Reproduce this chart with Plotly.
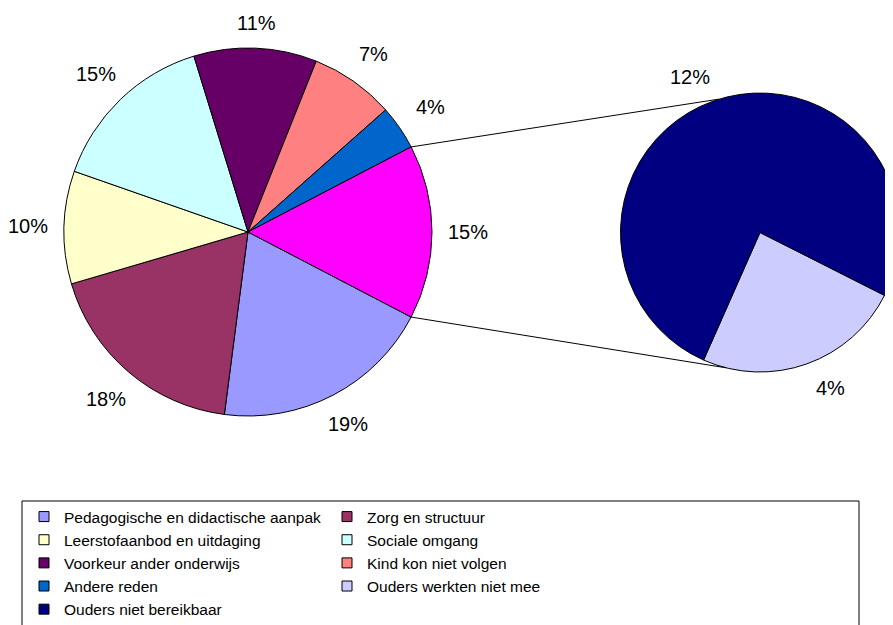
import math
import plotly.graph_objects as go

W, H = 893, 625
OFF = 8  # default page margin of the browser body, compensated in geometry

# ---- data ----
categories = ["Pedagogische en didactische aanpak", "Zorg en structuur",
              "Leerstofaanbod en uitdaging", "Sociale omgang",
              "Voorkeur ander onderwijs", "Kind kon niet volgen", "Andere reden"]
main_values = [19.4, 18.4, 9.9, 14.9, 10.8, 7.4, 3.9]
sub_categories = ["Ouders werkten niet mee", "Ouders niet bereikbaar"]
sub_values = [3.7, 11.6]

main_colors = ["#9999FF", "#993366", "#FFFFCC", "#CCFFFF", "#660066", "#FF8080", "#0066CC"]
sub_colors = ["#CCCCFF", "#000080"]
other_color = "#FF00FF"

FONT = "Liberation Sans, Arial, sans-serif"
LABEL_SIZE = 20

other_value = sum(sub_values)
total = sum(main_values) + other_value
other_frac = other_value / total

# ---- geometry (screen pixels) ----
main_c, main_r = (248, 232), 184
sub_c, sub_r = (760, 232.5), 139.5
LABEL_GAP = 16
HALF_W, HALF_H = 20, 8


def px2paper(x, y):
    return (x - OFF) / W, 1 - (y - OFF) / H


def dom(c, r):
    x0, y1 = px2paper(c[0] - r, c[1] - r)
    x1, y0 = px2paper(c[0] + r, c[1] + r)
    return dict(x=[x0, x1], y=[y0, y1])


main_rotation = 90 + other_frac * 180
sub_rotation = 116.8

fig = go.Figure()

main_all_vals = main_values + [other_value]
fig.add_trace(go.Pie(
    labels=categories + ["Overig"],
    values=main_all_vals,
    marker=dict(colors=main_colors + [other_color], line=dict(color="black", width=1)),
    sort=False, direction="clockwise", rotation=main_rotation,
    textinfo="none",
    domain=dom(main_c, main_r),
    showlegend=False, hoverinfo="label+percent",
))

fig.add_trace(go.Pie(
    labels=sub_categories,
    values=sub_values,
    marker=dict(colors=sub_colors, line=dict(color="black", width=1)),
    sort=False, direction="clockwise", rotation=sub_rotation,
    textinfo="none",
    domain=dom(sub_c, sub_r),
    showlegend=False, hoverinfo="label+value",
))

# legend entries
legend_names = categories + sub_categories
legend_colors = main_colors + sub_colors
for name, col in zip(legend_names, legend_colors):
    fig.add_trace(go.Scatter(
        x=[None], y=[None], mode="markers", name=name,
        marker=dict(symbol="square", size=10, color=col, line=dict(color="black", width=1)),
    ))


def pt(c, r, ang_cw):
    a = math.radians(ang_cw)
    return c[0] + r * math.sin(a), c[1] - r * math.cos(a)


# percentage labels placed just outside the rim at slice mid-angles
annotations = []


def add_labels(c, r, vals, rot, denom, ang_shift=0.0):
    s = sum(vals)
    ang = rot
    for v in vals:
        span = v / s * 360
        mid = ang + span / 2 + ang_shift
        a = math.radians(mid)
        rr = r + LABEL_GAP + HALF_W * abs(math.sin(a)) + HALF_H * abs(math.cos(a))
        x, y = pt(c, rr, mid)
        px, py = px2paper(x, y)
        annotations.append(dict(x=px, y=py, xref="paper", yref="paper",
                                text=f"{round(v / denom * 100)}%", showarrow=False,
                                xanchor="center", yanchor="middle",
                                font=dict(family=FONT, size=LABEL_SIZE, color="black")))
        ang += span


add_labels(main_c, main_r, main_all_vals, main_rotation, total)
add_labels(sub_c, sub_r, sub_values, sub_rotation, total, ang_shift=-4.5)

# connector lines
m_top = pt(main_c, main_r, 90 - other_frac * 180)
m_bot = pt(main_c, main_r, 90 + other_frac * 180)
s_top = pt(sub_c, sub_r, 343)
s_bot = pt(sub_c, sub_r, 194)
shapes = []
for a, b in [(m_top, s_top), (m_bot, s_bot)]:
    x0, y0 = px2paper(*a)
    x1, y1 = px2paper(*b)
    shapes.append(dict(type="line", xref="paper", yref="paper", x0=x0, y0=y0, x1=x1, y1=y1,
                       line=dict(color="black", width=1)))

# legend frame
lx0, ly0 = px2paper(22, 501)
lx1, ly1 = px2paper(859, 660)
shapes.append(dict(type="rect", xref="paper", yref="paper", x0=lx0, y0=ly1, x1=lx1, y1=ly0,
                   line=dict(color="black", width=1), fillcolor="rgba(0,0,0,0)"))

legx, legy = px2paper(24, 500)

fig.update_layout(
    width=W, height=H,
    margin=dict(l=0, r=0, t=0, b=0),
    paper_bgcolor="white", plot_bgcolor="white",
    font=dict(family=FONT, size=15, color="black"),
    xaxis=dict(visible=False), yaxis=dict(visible=False),
    shapes=shapes,
    annotations=annotations,
    showlegend=True,
    legend=dict(
        orientation="h", x=legx, y=legy, xanchor="left", yanchor="top",
        entrywidth=258, entrywidthmode="pixels",
        font=dict(family=FONT, size=15.5, color="black"),
        bgcolor="rgba(0,0,0,0)", borderwidth=0,
        itemwidth=30, traceorder="normal",
    ),
)

fig.write_html("out.html")
